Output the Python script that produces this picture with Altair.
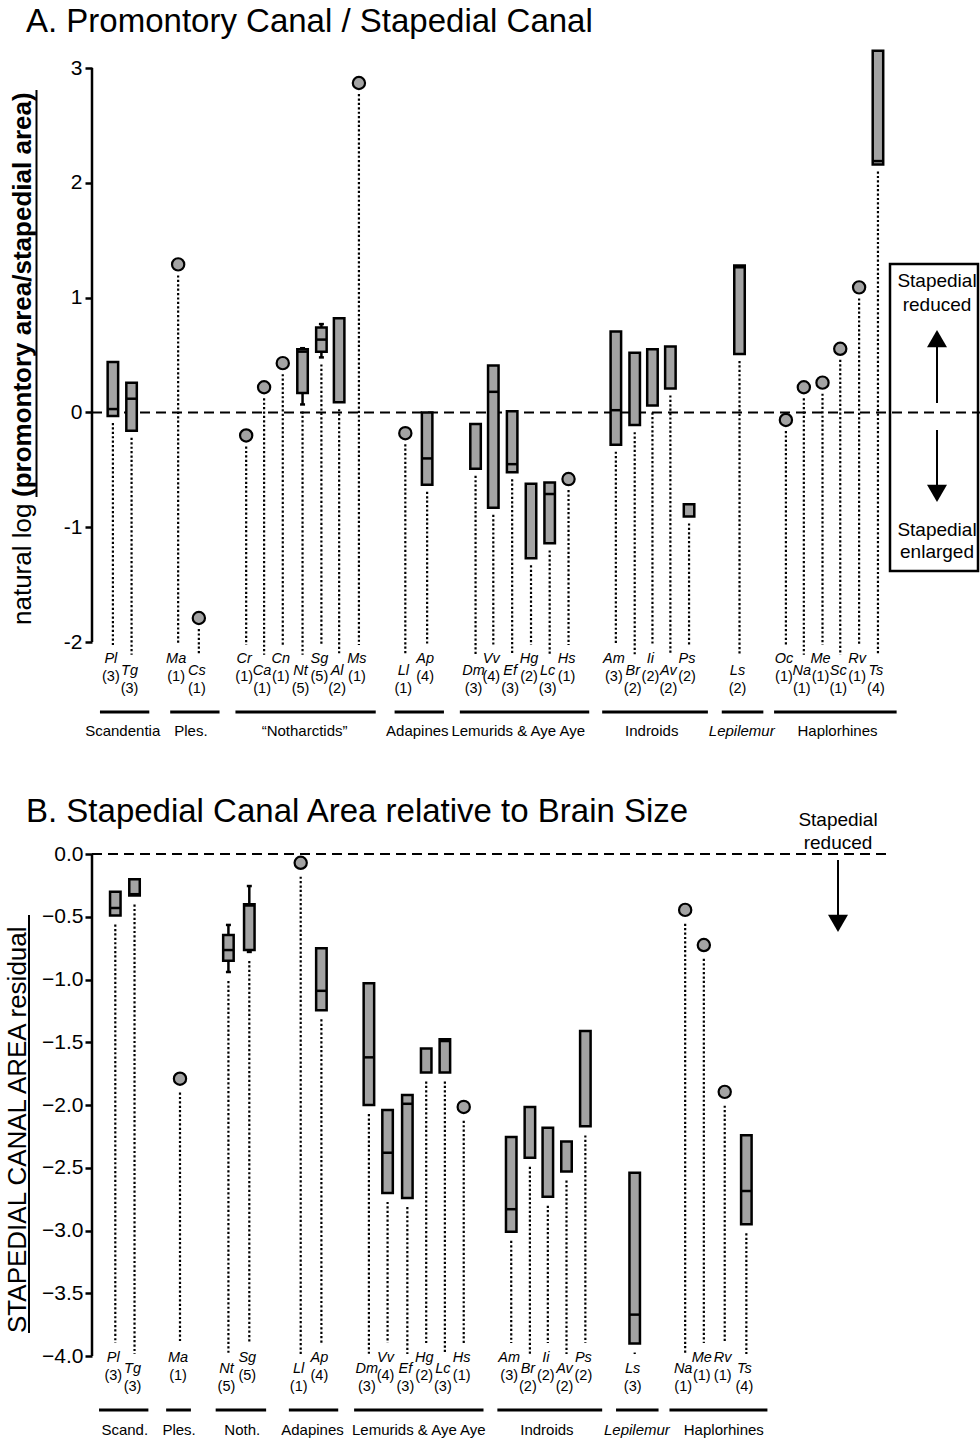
import altair as alt
import pandas as pd

FONT = "Liberation Sans"
W, H = 888, 1440
LEFT = 92

# ---------------- Panel A: ln(promontory area / stapedial area) ----------------
a_taxa = ["Pl", "Tg", "Ma", "Cs", "Cr", "Ca", "Cn", "Nt", "Sg", "Al", "Ms", "Ll", "Ap", "Dm", "Vv", "Ef",
          "Hg", "Lc", "Hs", "Am", "Br", "Ii", "Av", "Ps", "Ls", "Oc", "Na", "Me", "Sc", "Rv", "Ts"]
a_n = [3, 3, 1, 1, 1, 1, 1, 5, 5, 2, 1, 1, 4, 3, 4, 3, 2, 3, 1, 3, 2, 2, 2, 2, 2, 1, 1, 1, 1, 1, 4]
a_pos = [0.86, 1.87, 4.39, 5.51, 8.07, 9.04, 10.05, 11.12, 12.14, 13.10, 14.17, 16.68, 17.86, 20.48, 21.44, 22.46,
         23.48, 24.49, 25.51, 28.07, 29.09, 30.05, 31.02, 32.03, 34.76, 37.27, 38.24, 39.25, 40.21, 41.23, 42.25]
a_lo = [-0.03, -0.16, 1.29, -1.79, -0.20, 0.22, 0.43, 0.17, 0.53, 0.09, 2.87, -0.18, -0.63, -0.49, -0.83, -0.52,
        -1.27, -1.14, -0.58, -0.28, -0.11, 0.06, 0.21, -0.905, 0.51, -0.065, 0.22, 0.26, 0.555, 1.09, 2.16]
a_hi = [0.44, 0.26, 1.29, -1.79, -0.20, 0.22, 0.43, 0.55, 0.74, 0.82, 2.87, -0.18, 0.0, -0.10, 0.41, 0.01,
        -0.62, -0.61, -0.58, 0.705, 0.52, 0.55, 0.575, -0.80, 1.28, -0.065, 0.22, 0.26, 0.555, 1.09, 3.15]
a_med = [0.03, 0.12, None, None, None, None, None, 0.53, 0.635, None, None, None, -0.40, None, 0.18, -0.45,
         None, -0.71, None, 0.02, None, None, None, None, 1.265, None, None, None, None, None, 2.19]
a_wlo = [None] * 7 + [0.07, 0.48] + [None] * 22
a_whi = [None] * 7 + [0.56, 0.77] + [None] * 22
a_row = [0, 1, 0, 1, 0, 1, 0, 1, 0, 1, 0, 1, 0, 1, 0, 1, 0, 1, 0, 0, 1, 0, 1, 0, 1, 0, 1, 0, 1, 0, 1]

a_groups = ["Scandentia", "Ples.", "\u201cNotharctids\u201d", "Adapines", "Lemurids & Aye Aye", "Indroids",
            "Lepilemur", "Haplorhines"]
a_gstart = [0.16, 3.96, 7.49, 16.10, 19.63, 27.33, 33.80, 36.63]
a_gend = [2.83, 6.63, 15.08, 18.77, 26.63, 33.05, 36.05, 43.26]
a_glabel = [1.39, 5.08, 11.23, 17.33, 22.79, 30.01, 34.88, 40.06]

# ---------------- Panel B: stapedial canal area residual ----------------
b_taxa = ["Pl", "Tg", "Ma", "Nt", "Sg", "Ll", "Ap", "Dm", "Vv", "Ef", "Hg", "Lc", "Hs", "Am", "Br", "Ii",
          "Av", "Ps", "Ls", "Na", "Me", "Rv", "Ts"]
b_n = [3, 3, 1, 5, 5, 1, 4, 3, 4, 3, 2, 3, 1, 3, 2, 2, 2, 2, 3, 1, 1, 1, 4]
b_pos = [0.99, 2.03, 4.49, 7.11, 8.24, 11.02, 12.14, 14.71, 15.72, 16.79, 17.81, 18.82, 19.84, 22.41, 23.42,
         24.39, 25.40, 26.42, 29.09, 31.82, 32.83, 33.96, 35.13]
b_lo = [-0.49, -0.33, -1.79, -0.85, -0.765, -0.07, -1.245, -2.0, -2.70, -2.74, -1.74, -1.74, -2.015, -3.01,
        -2.42, -2.73, -2.53, -2.17, -3.90, -0.445, -0.725, -1.895, -2.95]
b_hi = [-0.30, -0.20, -1.79, -0.645, -0.40, -0.07, -0.75, -1.03, -2.04, -1.92, -1.55, -1.475, -2.015, -2.255,
        -2.015, -2.18, -2.29, -1.41, -2.54, -0.445, -0.725, -1.895, -2.24]
b_med = [-0.43, -0.32, None, -0.765, -0.41, None, -1.09, -1.62, -2.38, -1.99, None, -1.49, None, -2.83,
         None, None, None, None, -3.67, None, None, None, -2.685]
b_wlo = [None] * 3 + [-0.94, -0.78] + [None] * 18
b_whi = [None] * 3 + [-0.565, -0.255] + [None] * 18
b_row = [0, 1, 0, 1, 0, 1, 0, 1, 0, 1, 0, 1, 0, 0, 1, 0, 1, 0, 1, 1, 0, 0, 1]

b_groups = ["Scand.", "Ples.", "Noth.", "Adapines", "Lemurids & Aye Aye", "Indroids", "Lepilemur", "Haplorhines"]
b_gstart = [0.11, 3.74, 6.42, 10.38, 13.91, 21.66, 28.08, 30.97]
b_gend = [2.78, 5.08, 9.15, 13.05, 20.91, 27.33, 30.38, 36.27]
b_glabel = [1.50, 4.44, 7.86, 11.66, 17.41, 24.34, 29.21, 33.91]


def frame(taxa, n, pos, lo, hi, med, wlo, whi, row):
    return pd.DataFrame({"taxon": taxa, "n": n, "pos": pos, "lo": lo, "hi": hi, "med": med,
                         "wlo": wlo, "whi": whi, "row": row, "count": [f"({k})" for k in n]})


dfA = frame(a_taxa, a_n, a_pos, a_lo, a_hi, a_med, a_wlo, a_whi, a_row)
dfB = frame(b_taxa, b_n, b_pos, b_lo, b_hi, b_med, b_wlo, b_whi, b_row)

XS = alt.Scale(domain=[0, 47.5], nice=False, zero=False)
YA = alt.Scale(domain=[-8.950, 3.593], nice=False, zero=False)
YB = alt.Scale(domain=[-4.669, 6.805], nice=False, zero=False)

GRAY = "#a3a3a3"
ONE = pd.DataFrame({"k": [0]})


def X(field="pos"):
    return alt.X(f"{field}:Q", scale=XS, axis=None)


def panel(df, ys, axis, dom_top, dom_bot, zero_x2, gap_box, gap_pt, bot_up, bot_lo):
    base = alt.Chart(df)

    def Y(f, ax=None):
        return alt.Y(f"{f}:Q", scale=ys, axis=ax)

    dom = alt.Chart(pd.DataFrame({"top": [dom_top], "bot": [dom_bot]})).mark_rule(
        color="black", strokeWidth=2.5).encode(x=alt.value(0), y=Y("top", axis), y2="bot:Q")
    zero = alt.Chart(pd.DataFrame({"z": [0]})).mark_rule(
        color="black", strokeWidth=2, strokeDash=[10, 6]).encode(
        x=alt.value(0), x2=alt.value(zero_x2), y=Y("z"))
    dotted = base.transform_calculate(
        top=f"datum.n == 1 ? datum.lo - {gap_pt} : (isValid(datum.wlo) ? datum.wlo : datum.lo) - {gap_box}",
        bot=f"datum.row == 1 ? {bot_lo} : {bot_up}",
    ).mark_rule(color="black", strokeWidth=2.2, strokeDash=[2.2, 2.2]).encode(x=X(), y=Y("top"), y2="bot:Q")
    wb = base.transform_filter("isValid(datum.wlo)")
    whisk = wb.mark_rule(color="black", strokeWidth=2.5).encode(x=X(), y=Y("wlo"), y2="whi:Q")
    cap1 = wb.mark_tick(orient="horizontal", size=5, thickness=2.5, color="black", opacity=1).encode(x=X(), y=Y("wlo"))
    cap2 = wb.mark_tick(orient="horizontal", size=5, thickness=2.5, color="black", opacity=1).encode(x=X(), y=Y("whi"))
    boxes = base.transform_filter("datum.n > 1").mark_bar(
        size=10.5, fill=GRAY, stroke="black", strokeWidth=2.5, opacity=1).encode(x=X(), y=Y("lo"), y2="hi:Q")
    meds = base.transform_filter("isValid(datum.med)").mark_tick(
        orient="horizontal", size=10.5, thickness=2.5, color="black", opacity=1).encode(x=X(), y=Y("med"))
    pts = base.transform_filter("datum.n == 1").mark_point(
        shape="circle", filled=True, fill=GRAY, stroke="black", strokeWidth=2.2, size=150, opacity=1,
        fillOpacity=1).encode(x=X(), y=Y("lo"))
    return [dom, zero, dotted, whisk, cap1, cap2, boxes, meds, pts]


def taxon_labels(df, yn_up, yc_up, yn_lo, yc_lo):
    out = []
    for r, yn, yc in [(0, yn_up, yc_up), (1, yn_lo, yc_lo)]:
        b = alt.Chart(df).transform_filter(f"datum.row == {r}")
        out.append(b.mark_text(fontSize=14.5, font=FONT, fontStyle="italic", dx=-2, baseline="middle",
                               color="black").encode(x=X(), y=alt.value(yn), text="taxon:N"))
        out.append(b.mark_text(fontSize=14.5, font=FONT, dx=-2, baseline="middle",
                               color="black").encode(x=X(), y=alt.value(yc), text="count:N"))
    return out


def group_marks(names, gs, ge, gl, y_line, y_text):
    g = pd.DataFrame({"group": names, "gs": gs, "ge": ge, "gl": gl})
    base = alt.Chart(g)
    line = base.mark_rule(color="black", strokeWidth=3).encode(x=X("gs"), x2="ge:Q", y=alt.value(y_line))
    txt = base.transform_filter("datum.group != 'Lepilemur'").mark_text(
        fontSize=15, font=FONT, baseline="middle", color="black").encode(x=X("gl"), y=alt.value(y_text), text="group:N")
    txt_i = base.transform_filter("datum.group == 'Lepilemur'").mark_text(
        fontSize=15, font=FONT, fontStyle="italic", baseline="middle", color="black").encode(
        x=X("gl"), y=alt.value(y_text), text="group:N")
    return [line, txt, txt_i]


def note(text, x, y, size=19, align="center", angle=0, weight="normal"):
    return alt.Chart(ONE).mark_text(text=text, fontSize=size, font=FONT, align=align, baseline="alphabetic",
                                    angle=angle, fontWeight=weight, color="black").encode(
        x=alt.value(x - LEFT), y=alt.value(y))


def seg(x1, y1, x2, y2, width=2.0):
    return alt.Chart(ONE).mark_rule(color="black", strokeWidth=width).encode(
        x=alt.value(x1 - LEFT), x2=alt.value(x2 - LEFT), y=alt.value(y1), y2=alt.value(y2))


def tri(x, y, shape):
    return alt.Chart(ONE).mark_point(shape=shape, filled=True, color="black", size=400, opacity=1).encode(
        x=alt.value(x - LEFT), y=alt.value(y))


axisA = alt.Axis(values=[-2, -1, 0, 1, 2, 3], format="d", orient="left", domain=False, grid=False,
                 tickSize=7, tickWidth=2.5, tickColor="black", labelFontSize=21, labelFont=FONT,
                 labelColor="black", labelPadding=3, title=None,
                 labelExpr="replace(datum.label, '\u2212', '-')")
axisB = alt.Axis(values=[-4, -3.5, -3, -2.5, -2, -1.5, -1, -0.5, 0], format=".1f", orient="left", domain=False,
                 grid=False, tickSize=7, tickWidth=2.5, tickColor="black", labelFontSize=21, labelFont=FONT,
                 labelColor="black", labelPadding=2, title=None)

layers = []
layers += panel(dfA, YA, axisA, 3, -2, W, 0.061, 0.096, -2.025, -2.11)
layers += panel(dfB, YB, axisB, 0, -4, 890 - LEFT, 0.072, 0.11, -3.896, -3.984)
layers += taxon_labels(dfA, 659, 677, 671, 689)
layers += taxon_labels(dfB, 1358, 1376, 1369, 1387)
layers += group_marks(a_groups, a_gstart, a_gend, a_glabel, 712, 731)
layers += group_marks(b_groups, b_gstart, b_gend, b_glabel, 1410, 1430)

# titles
layers.append(note("A. Promontory Canal / Stapedial Canal", 26, 32, size=33, align="left"))
layers.append(note("B. Stapedial Canal Area relative to Brain Size", 26, 822, size=33, align="left"))

# y-axis titles
layers.append(note("natural log", 31, 625, size=26, align="left", angle=270))
layers.append(note("(promontory area/stapedial area)", 31, 497, size=26, align="left", angle=270, weight="bold"))
layers.append(seg(36.5, 497, 36.5, 90, width=2))
layers.append(note("STAPEDIAL CANAL AREA residual", 26, 1333, size=26, align="left", angle=270))
layers.append(seg(29, 1333, 29, 915, width=2))

# panel A annotation box
layers.append(alt.Chart(ONE).mark_rect(fillOpacity=0, stroke="black", strokeWidth=2.5).encode(
    x=alt.value(890 - LEFT), x2=alt.value(978 - LEFT), y=alt.value(264), y2=alt.value(571)))
layers.append(note("Stapedial", 937, 287))
layers.append(note("reduced", 937, 311))
layers.append(seg(937, 403, 937, 344))
layers.append(tri(937, 338.7, "triangle-up"))
layers.append(seg(937, 430, 937, 488))
layers.append(tri(937, 493.3, "triangle-down"))
layers.append(note("Stapedial", 937, 536))
layers.append(note("enlarged", 937, 558))

# panel B annotation
layers.append(note("Stapedial", 838, 826, size=19))
layers.append(note("reduced", 838, 849, size=19))
layers.append(seg(838, 860, 838, 918))
layers.append(tri(838, 923.3, "triangle-down"))

chart = alt.layer(*layers).resolve_scale(y="independent").properties(
    width=W, height=H,
    autosize=alt.AutoSizeParams(type="none"),
    padding={"left": LEFT, "top": 0, "right": 0, "bottom": 0},
    background="white",
).configure_view(stroke="transparent")

chart.save("out.html", embed_options={"renderer": "svg", "actions": False})
